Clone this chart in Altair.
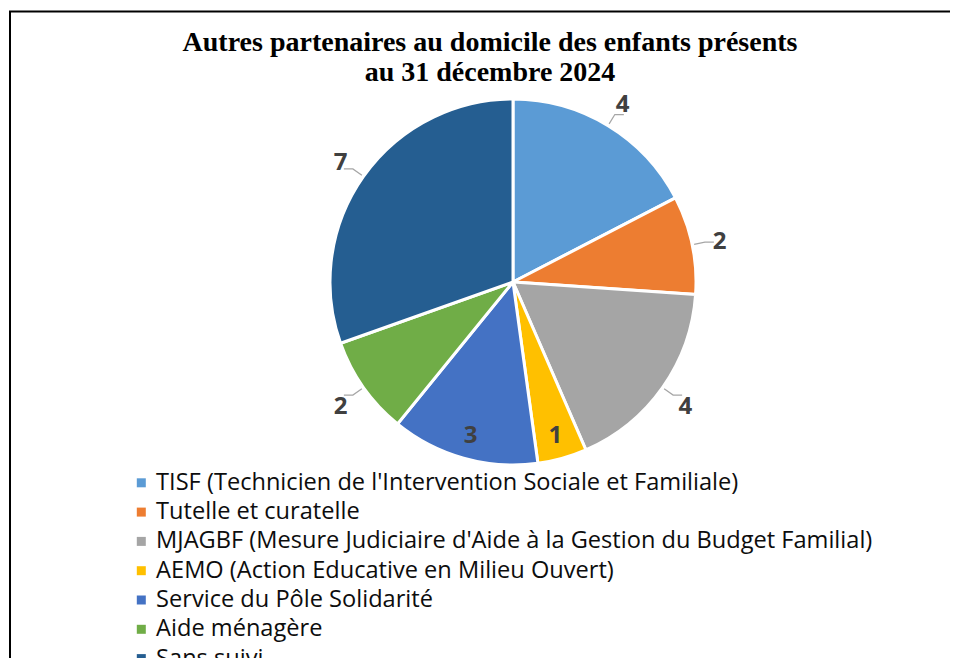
import altair as alt
import pandas as pd

# ---- data ----
title_lines = ["Autres partenaires au domicile des enfants présents", "au 31 décembre 2024"]
categories = [
    "TISF (Technicien de l'Intervention Sociale et Familiale)",
    "Tutelle et curatelle",
    "MJAGBF (Mesure Judiciaire d'Aide à la Gestion du Budget Familial)",
    "AEMO (Action Educative en Milieu Ouvert)",
    "Service du Pôle Solidarité",
    "Aide ménagère",
    "Sans suivi",
]
values = [4, 2, 4, 1, 3, 2, 7]
colors = ["#5B9BD5", "#ED7D31", "#A5A5A5", "#FFC000", "#4472C4", "#70AD47", "#255E91"]
inside_labels = ["AEMO (Action Educative en Milieu Ouvert)", "Service du Pôle Solidarité"]

df = pd.DataFrame({"categorie": categories, "valeur": values, "ordre": list(range(len(categories)))})
df["dedans"] = [c in inside_labels for c in categories]
one = pd.DataFrame({"k": [0]})

# ---- layout ----
W, H = 942, 650
CX, CY, R = 505, 274, 183
R_OUT, R_IN = 211, 157

color = alt.Color(
    "categorie:N",
    scale=alt.Scale(domain=categories, range=colors),
    sort=categories,
    legend=alt.Legend(
        title=None,
        orient="none",
        legendX=121.5,
        legendY=463,
        direction="vertical",
        symbolType="square",
        symbolSize=81,
        symbolStrokeWidth=0,
        labelFont="Open Sans",
        labelFontSize=23.6,
        labelColor="#0d0d0d",
        labelOffset=3,
        labelLimit=0,
        rowPadding=4.3,
        padding=0,
    ),
)

base = alt.Chart(df).encode(
    theta=alt.Theta("valeur:Q", stack=True),
    order=alt.Order("ordre:Q"),
)

pie = base.mark_arc(radius=R, stroke="white", strokeWidth=3).encode(
    color=color, x=alt.value(CX), y=alt.value(CY)
)

label_style = dict(font="Open Sans", fontSize=24, fontWeight="bold", align="center", baseline="middle", dy=3)

labels_out = base.mark_text(radius=R_OUT, **label_style).encode(
    x=alt.value(CX), y=alt.value(CY),
    text=alt.condition("datum.dedans", alt.value(""), alt.Text("valeur:Q")),
    color=alt.value("#404040"),
)

labels_in = base.mark_text(radius=R_IN, **label_style).encode(
    x=alt.value(CX), y=alt.value(CY),
    text=alt.condition("datum.dedans", alt.Text("valeur:Q"), alt.value("")),
    color=alt.value("#404040"),
)

leaders = (
    alt.Chart(df)
    .transform_joinaggregate(total="sum(valeur)")
    .transform_window(cum="sum(valeur)", sort=[alt.SortField("ordre")], frame=[None, 0])
    .transform_filter("!datum.dedans")
    .transform_calculate(mid="(datum.cum - datum.valeur/2) / datum.total * 2 * PI")
    .transform_calculate(pts="[0, 1, 2]")
    .transform_flatten(["pts"])
    .transform_calculate(rr=f"datum.pts == 0 ? {R + 2} : {R + 13}")
    .transform_calculate(
        px=f"{CX} + datum.rr * sin(datum.mid) + (datum.pts == 2 ? 9 * (sin(datum.mid) > 0 ? 1 : -1) : 0)",
        py=f"{CY} - datum.rr * cos(datum.mid)",
    )
    .mark_line(color="#A6A6A6", strokeWidth=1.25)
    .encode(
        x=alt.X("px:Q", scale=None),
        y=alt.Y("py:Q", scale=None),
        detail="categorie:N",
        order="pts:Q",
    )
)

title = alt.Chart(one).mark_text(
    text=title_lines,
    font="Liberation Serif",
    fontSize=28,
    fontWeight="bold",
    color="black",
    align="center",
    baseline="alphabetic",
    lineHeight=30,
).encode(x=alt.value(482), y=alt.value(43))

frame = alt.Chart(one).mark_rect(fill="transparent", stroke="black", strokeWidth=2).encode(
    x=alt.value(2), x2=alt.value(W + 40), y=alt.value(3.5), y2=alt.value(H + 40)
)

chart = (
    alt.layer(pie, leaders, labels_out, labels_in, title, frame)
    .properties(width=W, height=H, autosize=alt.AutoSizeParams(type="none"), padding=0)
    .configure_view(stroke="transparent", strokeWidth=0)
)

chart.save("out.html", embed_options={"renderer": "svg", "actions": False})
